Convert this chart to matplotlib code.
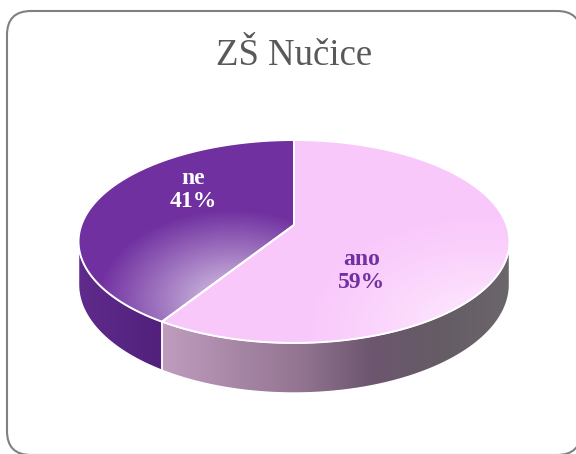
import numpy as np
import matplotlib.pyplot as plt
from matplotlib.patches import Polygon, FancyBboxPatch
from matplotlib.colors import to_rgb

# data
categories = ['ano', 'ne']
values = [59, 41]
title = 'ZŠ Nučice'

# label styling / placement (pixel coords)
label_colors = ['#7030A0', 'white']
label_xy = [(362, 271), (193, 190)]

W, H = 576, 454
# projected pie geometry (simple perspective of a tilted disk)
CX, CY, A, B, K, DEPTH = 294, 225, 212.6, 98.8, 0.1625, 41.9


def proj(t, depth=0.0):
    u, v = np.cos(t), np.sin(t)
    w = 1 + K * v
    return CX + A * u / w, CY - B * v / w + depth / w


def arc(t0, t1, depth=0.0, n=200):
    t = np.radians(np.linspace(t0, t1, n))
    x, y = proj(t, depth)
    return np.column_stack([x, y])


def blend(c0, c1, s):
    c0, c1 = np.array(to_rgb(c0)), np.array(to_rgb(c1))
    return (1 - s)[..., None] * c0 + s[..., None] * c1


def hgrad(xs, cols):
    xx = np.arange(W) + 0.5
    rgb = np.array([to_rgb(c) for c in cols])
    row = np.column_stack([np.interp(xx, xs, rgb[:, i]) for i in range(3)])
    return np.repeat(row[None, :, :], H, axis=0)


xx, yy = np.meshgrid(np.arange(W) + 0.5, np.arange(H) + 0.5)

# gradients for each slice: top face and side face
r = np.sqrt(((xx - 480) / 175) ** 2 + ((yy - 330) / 115) ** 2)
ano_top = blend('#FFF2FF', '#F9C8FB', np.clip(r, 0, 1) ** 0.7)
r = np.sqrt(((xx - 232) / 135) ** 2 + ((yy - 300) / 90) ** 2)
ne_top = blend('#DCCDE8', '#7030A0', np.clip(r, 0, 1) ** 0.95)
ano_side = hgrad([165, 230, 300, 370, 440, 512],
                 ['#BE9CBE', '#A988A8', '#937591', '#6D5670', '#655C65', '#6B676B'])
ne_side = hgrad([78, 167], ['#5F2B8C', '#50207A'])
tops = [ano_top, ne_top]
sides = [ano_side, ne_side]

fig = plt.figure(figsize=(W / 100, H / 100), dpi=100)
ax = fig.add_axes([0, 0, 1, 1])
ax.set_xlim(0, W)
ax.set_ylim(H, 0)
ax.axis('off')

border = FancyBboxPatch((7, 11), 574, 444, boxstyle='round,pad=0,rounding_size=24',
                        fc='white', ec='#808080', lw=1.5, zorder=0)
ax.add_patch(border)

total = sum(values)
vis_lo = 180 + np.degrees(np.arcsin(K))
vis_hi = 360 - np.degrees(np.arcsin(K))

start = 90.0
for i, (cat, val) in enumerate(zip(categories, values)):
    end = start - 360.0 * val / total  # clockwise
    # side face (front part only)
    for off in (-360, 0, 360):
        lo, hi = max(end + off, vis_lo), min(start + off, vis_hi)
        if hi > lo:
            pts = np.vstack([arc(lo, hi), arc(hi, lo, DEPTH)])
            p = Polygon(pts, closed=True, fc='none', ec='white', lw=1.0, zorder=2)
            ax.add_patch(p)
            im = ax.imshow(sides[i], extent=(0, W, H, 0), origin='upper',
                           interpolation='bilinear', zorder=1)
            im.set_clip_path(p)
    # top face
    pts = np.vstack([[CX, CY], arc(start, end)])
    p = Polygon(pts, closed=True, fc='none', ec='white', lw=1.4, zorder=4,
                joinstyle='round')
    ax.add_patch(p)
    im = ax.imshow(tops[i], extent=(0, W, H, 0), origin='upper',
                   interpolation='bilinear', zorder=3)
    im.set_clip_path(p)

    pct = round(100 * val / total)
    ax.text(label_xy[i][0], label_xy[i][1], f'{cat}\n{pct}%', ha='center', va='center',
            fontsize=17, fontweight='bold', family='Liberation Serif',
            color=label_colors[i], linespacing=1.1, zorder=5)
    start = end

ax.set_xlim(0, W)
ax.set_ylim(H, 0)
ax.text(294.5, 65, title, ha='center', va='baseline', fontsize=26.5,
        family='Liberation Serif', color='#595959', zorder=5)

fig.savefig('out.png', dpi=100)
